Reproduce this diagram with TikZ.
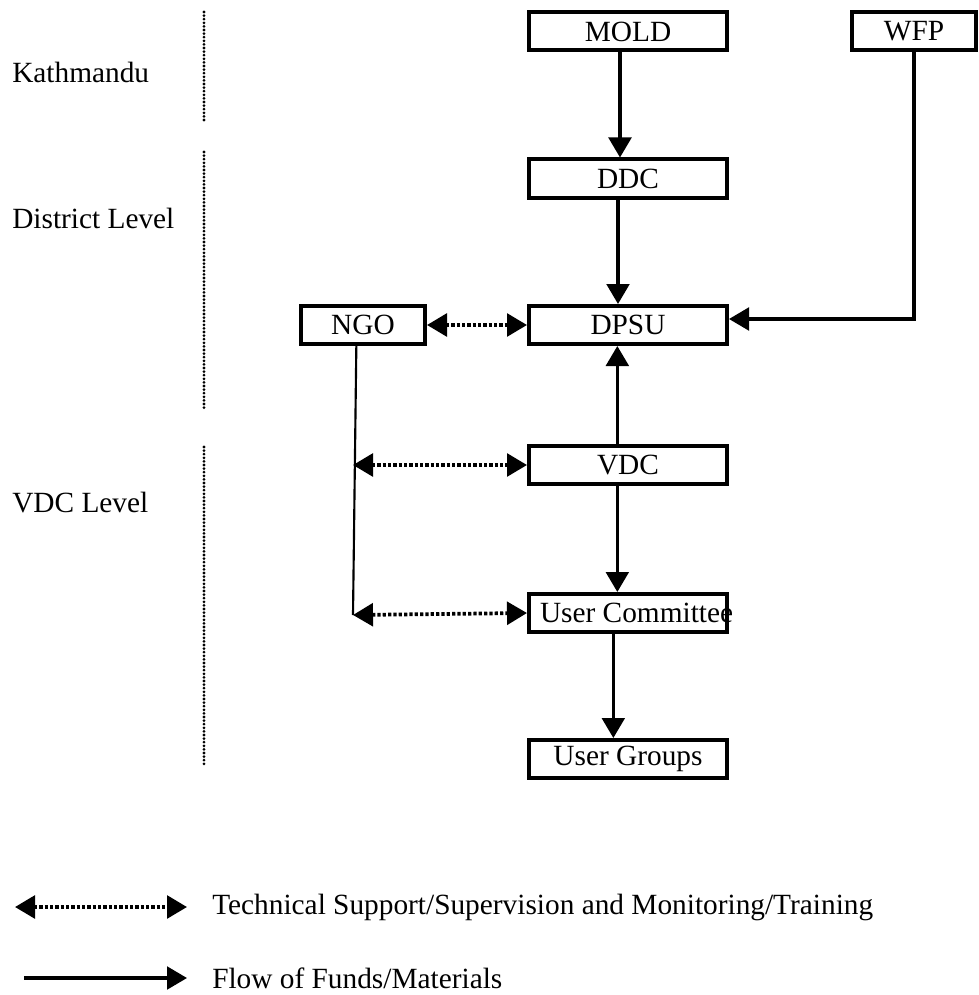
\documentclass[tikz,border=0pt]{standalone}
\usepackage{fontspec}
\setmainfont{Liberation Serif}
\usetikzlibrary{arrows.meta}
\usetikzlibrary{positioning}

\begin{document}
\begin{tikzpicture}[x=0.75pt,y=-0.75pt]
  \tikzset{box/.style = {shape=rectangle,draw,line width=3pt,minimum width=148.5pt,
                         minimum height=28.5pt,inner sep=0pt,font=\fontsize{22}{24}\selectfont}}
  \tikzset{smallbox/.style = {box,minimum width=93pt}}
  \tikzset{flow/.style = {line width=2.4pt,-{Triangle[length=15pt,width=17pt]}}}
  \tikzset{support/.style = {line width=2.8pt,dash pattern=on 2.4pt off 1.6pt,
                             {Triangle[length=15pt,width=17pt]}-{Triangle[length=15pt,width=17pt]}}}
  \tikzset{level/.style = {line width=2.3pt,dash pattern=on 0pt off 2.7pt,line cap=round}}
  \tikzset{label/.style = {anchor=west,inner sep=0pt,font=\fontsize{22}{24}\selectfont}}

  \useasboundingbox (0,0) rectangle (978,995);

  % levels
  \node[label] (ktm) at (12,72) {Kathmandu};
  \node[label] (dist) at (12,218) {District Level};
  \node[label] (vdcl) at (12,503) {VDC Level};
  \coordinate (k1) at (204,12);  \coordinate (k2) at (204,120);
  \coordinate (d1) at (204,152); \coordinate (d2) at (204,410);
  \coordinate (v1) at (204,447); \coordinate (v2) at (204,767);
  \draw[level] (k1) -- (k2);
  \draw[level] (d1) -- (d2);
  \draw[level] (v1) -- (v2);

  % boxes
  \node[box] (mold) at (628,31.5) {MOLD};
  \node[smallbox] (wfp) at (914,31.5) {WFP};
  \node[box] (ddc) at (628,178.5) {DDC};
  \node[box] (dpsu) at (628,325) {DPSU};
  \node[smallbox] (ngo) at (363,325) {NGO};
  \node[box] (vdc) at (628,465) {VDC};
  \node[box] (uc) at (628,613) {\hbox to 132pt{User Committee\hss}};
  \node[box] (ug) at (628,759) {User Groups};

  % connectors
  \draw[flow] ([xshift=-6pt]mold.south) -- ([xshift=-6pt]ddc.north);
  \draw[flow] ([xshift=-7.5pt]ddc.south) -- ([xshift=-7.5pt]dpsu.north);
  \draw[flow] (wfp.south) |- ([yshift=4.5pt]dpsu.east);
  \draw[flow] ([xshift=-8pt]vdc.north) -- ([xshift=-8pt]dpsu.south);
  \draw[flow] ([xshift=-8pt]vdc.south) -- ([xshift=-8pt]uc.north);
  \draw[flow] ([xshift=-11pt]uc.south) -- ([xshift=-11pt]ug.north);
  \draw[support] (ngo) -- (dpsu);

  \coordinate (ngoend) at (353,615);
  \draw[line width=1.6pt] ([xshift=-5pt]ngo.south) -- (ngoend);
  \draw[support] (vdc.west -| ngoend) -- (vdc.west);
  \draw[support] (ngoend) -- (uc.west);

  % legend
  \coordinate (s1) at (15,907);  \coordinate (s2) at (187,907);
  \coordinate (f1) at (24,978);  \coordinate (f2) at (187,978);
  \draw[support] (s1) -- (s2);
  \draw[flow] (f1) -- (f2);
  \node[label] (techlbl) at (212,907) {Technical Support/Supervision and Monitoring/Training};
  \node[label] (flowlbl) at (212,978) {Flow of Funds/Materials};

\end{tikzpicture}
\end{document}
